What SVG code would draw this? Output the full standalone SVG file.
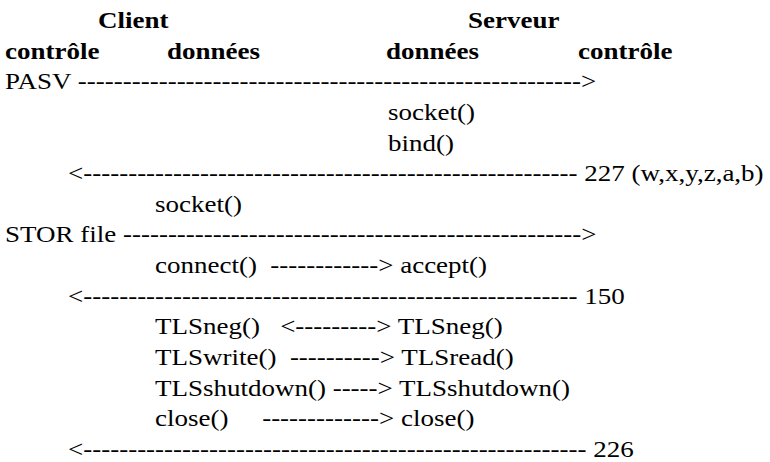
<svg xmlns="http://www.w3.org/2000/svg" width="770" height="462" viewBox="0 0 770 462">
  <style>
    text { font-size: 27px; fill: #000; white-space: pre; }
    .h { font-weight: bold; }
  </style>
  <rect width="770" height="462" fill="#fff"/>
  <!-- PASV / STOR exchange, control and data channels; text is set slightly condensed vertically -->
  <g transform="scale(1 0.84)" font-family="'Liberation Serif', 'DejaVu Serif', serif">
    <g id="headers">
      <text class="h" x="98" y="33.33">Client</text>
      <text class="h" x="468" y="33.33">Serveur</text>
      <text class="h" x="5" y="69.81">contrôle</text>
      <text class="h" x="167" y="69.81">données</text>
      <text class="h" x="386" y="69.81">données</text>
      <text class="h" x="578" y="69.81">contrôle</text>
    </g>
    <g id="exchange">
      <text x="5" y="106.29" xml:space="preserve">PASV --------------------------------------------------------&gt;</text>
      <text x="388" y="142.76">socket()</text>
      <text x="388" y="179.24">bind()</text>
      <text x="68" y="215.71" xml:space="preserve">&lt;------------------------------------------------------- 227 (w,x,y,z,a,b)</text>
      <text x="155" y="252.19">socket()</text>
      <text x="5" y="288.67" xml:space="preserve">STOR file ---------------------------------------------------&gt;</text>
      <text x="155" y="325.14" xml:space="preserve">connect()  ------------&gt; accept()</text>
      <text x="68" y="361.62" xml:space="preserve">&lt;------------------------------------------------------- 150</text>
      <text x="155" y="398.1" xml:space="preserve">TLSneg()   &lt;---------&gt; TLSneg()</text>
      <text x="155" y="434.57" xml:space="preserve">TLSwrite()  ----------&gt; TLSread()</text>
      <text x="155" y="471.05" xml:space="preserve">TLSshutdown() -----&gt; TLSshutdown()</text>
      <text x="155" y="507.52" xml:space="preserve">close()     -------------&gt; close()</text>
      <text x="68" y="544" xml:space="preserve">&lt;-------------------------------------------------------- 226</text>
    </g>
  </g>
</svg>
